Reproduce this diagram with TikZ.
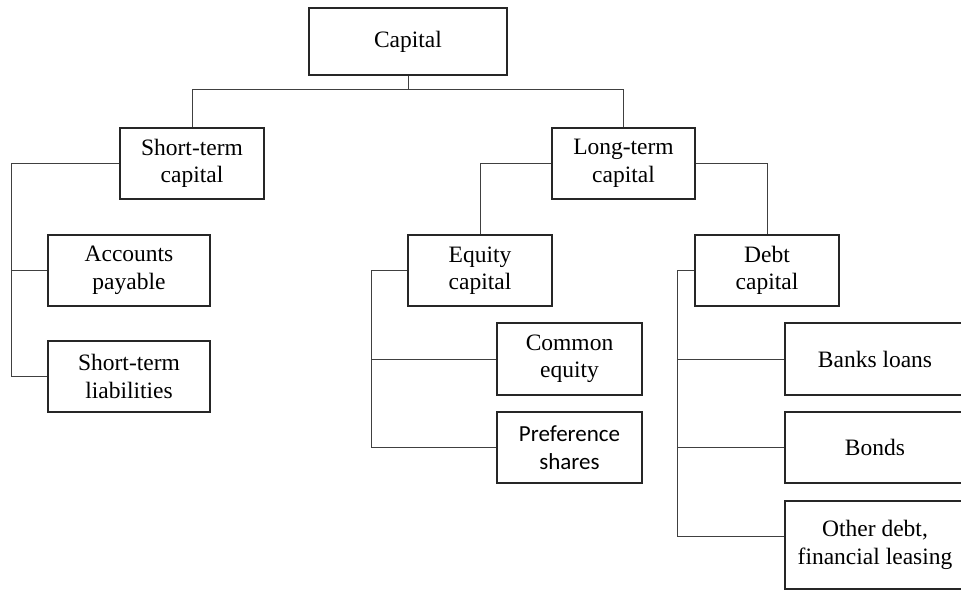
\documentclass[tikz,border=0pt]{standalone}
\usepackage{fontspec}
\setmainfont{Liberation Serif}
\newfontfamily\calfont{Carlito}
\begin{document}
\begin{tikzpicture}[x=1pt,y=1pt,
  box/.style={draw=black!85, line width=1.2pt, inner sep=0pt, align=center,
    font=\fontsize{23.5}{27.5}\selectfont},
  conn/.style={draw=black!75, line width=0.9pt}]
\useasboundingbox (0,0) rectangle (961,591);
\clip (0,0) rectangle (961,591);
% nodes (y = 591 - pixel y)
\node[box, minimum width=198pt, minimum height=67pt] (cap) at (408,549.5) {Capital};
\node[box, minimum width=144pt, minimum height=71pt] (st) at (192,427.5) {Short-term\\capital};
\node[box, minimum width=143pt, minimum height=71pt] (lt) at (623.5,427.5) {Long-term\\capital};
\node[box, minimum width=162pt, minimum height=71pt] (ap) at (129,320.5) {Accounts\\payable};
\node[box, minimum width=162pt, minimum height=71pt] (sl) at (129,214.5) {Short-term\\liabilities};
\node[box, minimum width=144pt, minimum height=71pt] (eq) at (480,320.5) {Equity\\capital};
\node[box, minimum width=144pt, minimum height=71pt] (db) at (767,320.5) {Debt\\capital};
\node[box, minimum width=145pt, minimum height=72pt] (ce) at (569.5,232) {Common\\equity};
\node[box, minimum width=145pt, minimum height=71pt, font=\calfont\fontsize{23}{28}\selectfont] (ps) at (569.5,143.5) {Preference\\shares};
\node[box, minimum width=180pt, minimum height=72pt] (bl) at (875,232) {Banks loans};
\node[box, minimum width=180pt, minimum height=71pt] (bo) at (875,143.5) {Bonds};
\node[box, minimum width=180pt, minimum height=88pt] (od) at (875,46) {Other debt,\\financial leasing};
% connectors
\draw[conn] (cap.south) -- ++(0,-14) coordinate (cj) -| (st.north);
\draw[conn] (cj) -| (lt.north);
\draw[conn] (st.west) -| ([xshift=-36pt]sl.west) -- (sl.west);
\draw[conn] ([xshift=-36pt]ap.west) -- (ap.west);
\draw[conn] (lt.west) -| (eq.north);
\draw[conn] (lt.east) -| (db.north);
\draw[conn] (eq.west) -- ++(-36pt,0) coordinate (ev) |- (ps.west);
\draw[conn] (ev) |- (ce.west);
\coordinate (odc) at ([yshift=8.5pt]od.west);
\draw[conn] (db.west) -- ++(-17pt,0) coordinate (dv) |- (odc);
\draw[conn] (dv) |- (bl.west);
\draw[conn] (dv) |- (bo.west);
\end{tikzpicture}
\end{document}
